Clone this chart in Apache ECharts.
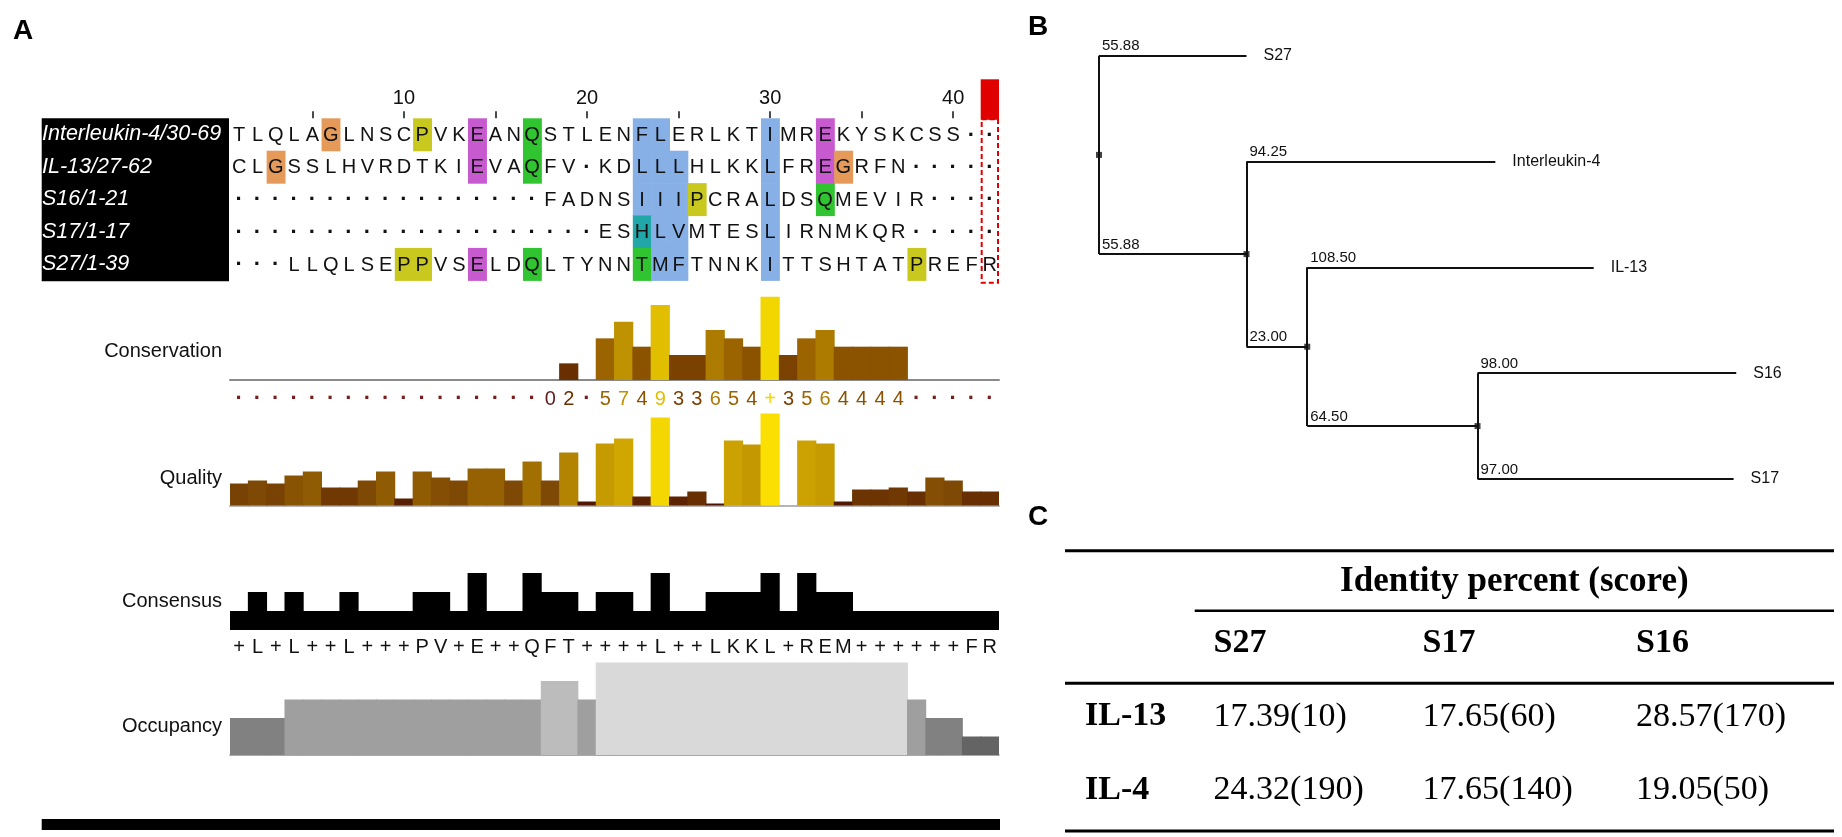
<!DOCTYPE html>
<html><head><meta charset="utf-8">
<script src="https://cdn.jsdelivr.net/npm/echarts@6/dist/echarts.min.js"></script>
<style>html,body{margin:0;padding:0;background:#fff}#c{width:1842px;height:837px}</style>
</head><body><div id="c"></div>
<script>
// ================= DATA =================
const seqNames = ['Interleukin-4/30-69', 'IL-13/27-62', 'S16/1-21', 'S17/1-17', 'S27/1-39'];
const seqRows = [
  'TLQLAGLNSCPVKEANQSTLENFLERLKTIMREKYSKCSS--',
  'CLGSSLHVRDTKIEVAQFV-KDLLLHLKKLFREGRFN-----',
  '-----------------FADNSIIIPCRALDSQMEVIR----',
  '--------------------ESHLVMTESLIRNMKQR-----',
  '---LLQLSEPPVSELDQLTYNNTMFTNNKITTSHTATPREFR'
];
// Clustal colour class per residue (o=G orange, y=P, m=E, g=Q/T, b=hydrophobic, t=H)
const clustalClass = [
  '.....o....y..m..g.....bb.....b..m.........',
  '..o..........m..g.....bbb....b..mo........',
  '......................bbby...b..g.........',
  '......................tbb....b............',
  '.........yy..m..g.....gbb....b.......y....'
];
const hiddenColumns = [42];
const rulerEvery = 10;
const tickEvery = 5;
const conservation = [null,null,null,null,null,null,null,null,null,null,null,null,null,null,null,null,null,
  0,2,null,5,7,4,9,3,3,6,5,4,10,3,5,6,4,4,4,4,null,null,null,null,null];
const quality = [22,25,22,30,34,18,18,25,34,7, 34,28,25,37,37,25,44,25,53,4,
  62,67,9,88,9,14,2,65,61,92, 0,65,62,4,16,16,18,14,28,25, 14,14];
const consensusPct = [20,40,20,40,20,20,40,20,20,20, 40,40,20,60,20,20,60,40,40,20,
  40,40,20,60,20,20,40,40,40,60, 20,60,40,40,20,20,20,20,20,20, 20,20];
const consensusChar = '+L+L++L+++PV+E++QFT++++L++LKKL+REM++++++FR';
const occupancy = [2,2,2, 3,3,3,3,3,3,3,3,3,3,3,3,3,3, 4,4, 3,
  5,5,5,5,5,5,5,5,5,5,5,5,5,5,5,5,5, 3, 2,2, 1,1];
const annotationLabels = ['Conservation', 'Quality', 'Consensus', 'Occupancy'];

// tree (panel B)
const treeNode = ['root', 'S27', 'n2', 'Interleukin-4', 'n3', 'IL-13', 'n4', 'S16', 'S17'];
const treeParent = [-1, 0, 0, 2, 2, 4, 4, 6, 6];
const branchLength = [0, 55.88, 55.88, 94.25, 23.00, 108.50, 64.50, 98.00, 97.00];

// table (panel C)
const tableTitle = 'Identity percent (score)';
const tableCols = ['S27', 'S17', 'S16'];
const tableRows = ['IL-13', 'IL-4'];
const identityPct = [[17.39, 17.65, 28.57], [24.32, 17.65, 19.05]];
const identityScore = [[10, 60, 170], [190, 140, 50]];

// ================= STYLE / LAYOUT =================
const FONT = '"Liberation Sans", Arial, sans-serif';
const SERIF = '"Liberation Serif", "Times New Roman", serif';
const N = seqRows[0].length;
const colNumbers = Array.from({length: N}, (_, i) => String(i + 1));
const clustalColors = {o: '#e59a5a', y: '#c9c81e', m: '#c85ad0', g: '#30c430', b: '#87b0e6', t: '#22a7a8'};
const consStops = ['#4a0c00', '#9b6400', '#f2d600'];
const qualStops = ['#4a0e00', '#7c4604', '#a87602', '#d8b200', '#ffe600'];
const occStops = ['#646464', '#d9d9d9'];

function hex2rgb(h) { return [1, 3, 5].map(i => parseInt(h.substr(i, 2), 16)); }
function gradient(stops, t) {
  t = Math.max(0, Math.min(1, t));
  const s = t * (stops.length - 1), i = Math.min(Math.floor(s), stops.length - 2), f = s - i;
  const a = hex2rgb(stops[i]), b = hex2rgb(stops[i + 1]);
  return 'rgb(' + a.map((v, k) => Math.round(v + (b[k] - v) * f)).join(',') + ')';
}

const L = 230, W = 769;
const BAR_W = W / N + 0.9;
const grids = [
  {left: L, top: 118.3, width: W, height: 162},   // 0 alignment
  {left: L, top: 296.7, width: W, height: 83.3},  // 1 conservation
  {left: L, top: 388, width: W, height: 20},      // 2 conservation symbols
  {left: L, top: 410.5, width: W, height: 95},    // 3 quality
  {left: L, top: 535, width: W, height: 95},      // 4 consensus
  {left: L, top: 637, width: W, height: 20},      // 5 consensus chars
  {left: L, top: 662.5, width: W, height: 92.5}   // 6 occupancy
];

// tree layout from data
const children = treeNode.map(() => []);
treeParent.forEach((p, i) => { if (p >= 0) children[p].push(i); });
const depth = [];
treeNode.forEach((_, i) => { depth[i] = treeParent[i] < 0 ? 0 : depth[treeParent[i]] + branchLength[i]; });
const ypos = []; let leafCounter = 0;
(function place(i) {
  if (!children[i].length) { ypos[i] = leafCounter++; return; }
  children[i].forEach(place);
  const ys = children[i].map(c => ypos[c]);
  ypos[i] = (Math.min(...ys) + Math.max(...ys)) / 2;
})(0);
const maxDepth = Math.max(...depth);
const pxPerUnit = 2.64;
grids.push({left: 1099, top: 55.7, width: maxDepth * pxPerUnit, height: 423.3}); // 7 tree

const treeSegments = [];
treeNode.forEach((_, i) => {
  const p = treeParent[i];
  if (p >= 0) treeSegments.push({coords: [[depth[p], ypos[i]], [depth[i], ypos[i]]]});
  if (children[i].length) {
    const ys = children[i].map(c => ypos[c]);
    treeSegments.push({coords: [[depth[i], Math.min(...ys)], [depth[i], Math.max(...ys)]]});
  }
});
const internalNodes = treeNode.map((_, i) => i).filter(i => children[i].length);
const branchLabelNodes = treeNode.map((_, i) => i).filter(i => treeParent[i] >= 0);
const leafNodes = treeNode.map((_, i) => i).filter(i => !children[i].length);

// axes
const xAxes = grids.map((g, gi) => {
  if (gi === 7) return {type: 'value', gridIndex: 7, min: 0, max: maxDepth, show: false};
  const ax = {type: 'category', gridIndex: gi, data: colNumbers, boundaryGap: true,
    axisLine: {show: false}, axisTick: {show: false}, axisLabel: {show: false}, splitLine: {show: false}};
  if (gi === 0) {
    ax.position = 'top';
    ax.axisTick = {show: true, alignWithLabel: true, length: 7,
      interval: (i) => (i + 1) % tickEvery === 0, lineStyle: {color: '#111', width: 1.5}};
    ax.axisLabel = {show: true, interval: (i) => (i + 1) % rulerEvery === 0, margin: 10,
      fontSize: 20, color: '#111', fontFamily: FONT};
  }
  if (gi === 1) ax.axisLine = {show: true, lineStyle: {color: '#8a8a8a', width: 2}};
  if (gi === 3) ax.axisLine = {show: true, lineStyle: {color: '#b5b5b5', width: 2}};
  if (gi === 6) ax.axisLine = {show: true, lineStyle: {color: '#8c8c8c', width: 1.5}};
  return ax;
});
const yMax = [null, 10, 1, 95, 100, 1, 5, null];
const yAxes = grids.map((g, gi) => {
  if (gi === 0) return {type: 'category', gridIndex: 0, data: seqNames, inverse: true, z: 10,
    axisLine: {show: false}, axisTick: {show: false}, splitLine: {show: false},
    axisLabel: {margin: 188, align: 'left', color: '#fff', fontStyle: 'italic', fontSize: 21.5, fontFamily: FONT}};
  if (gi === 7) return {type: 'value', gridIndex: 7, min: 0, max: leafCounter - 1, inverse: true, show: false};
  return {type: 'value', gridIndex: gi, min: 0, max: yMax[gi], show: false};
});

// alignment data
const hlData = [], letterData = [];
seqRows.forEach((row, r) => {
  for (let c = 0; c < N; c++) {
    letterData.push([c, r, row[c]]);
    const k = clustalClass[r][c];
    if (k !== '.') hlData.push([c, r, k]);
  }
});

function cellRect(api) {
  const p = api.coord([api.value(0), api.value(1)]);
  const s = api.size([1, 1]);
  return {x: p[0] - s[0] / 2, y: p[1] - s[1] / 2, width: s[0], height: s[1], cx: p[0], cy: p[1]};
}

const series = [
  { // 0 highlight cells
    type: 'custom', xAxisIndex: 0, yAxisIndex: 0, data: hlData.map(d => [d[0], d[1]]), z: 1,
    renderItem: (params, api) => {
      const r = cellRect(api);
      return {type: 'rect', shape: {x: r.x, y: r.y, width: r.width + 0.6, height: r.height + 0.6},
        style: {fill: clustalColors[hlData[params.dataIndex][2]]}};
    }
  },
  { // 1 residue letters
    type: 'custom', xAxisIndex: 0, yAxisIndex: 0, data: letterData.map(d => [d[0], d[1]]), z: 3,
    renderItem: (params, api) => {
      const r = cellRect(api);
      const ch = letterData[params.dataIndex][2];
      return {type: 'text', x: r.cx, y: r.cy + 1, style: {text: ch === '-' ? '·' : ch,
        fill: '#111', fontSize: ch === '-' ? 22 : 20, fontWeight: ch === '-' ? 'bold' : 'normal',
        fontFamily: FONT, align: 'center', verticalAlign: 'middle'}};
    }
  },
  { // 2 hidden column marker
    type: 'custom', xAxisIndex: 0, yAxisIndex: 0, data: hiddenColumns.map(c => [c - 1, 0]), z: 4,
    renderItem: (params, api) => {
      const r = cellRect(api), cs = params.coordSys;
      return {type: 'group', children: [
        {type: 'rect', shape: {x: r.x, y: cs.y - 39, width: r.width, height: 40.5}, style: {fill: '#e00000'}},
        {type: 'rect', shape: {x: r.x + 1, y: cs.y + 1, width: r.width - 2, height: cs.height + 1.5},
          style: {fill: null, stroke: '#e00000', lineWidth: 2, lineDash: [5, 3]}}
      ]};
    }
  },
  { // 3 conservation bars
    type: 'bar', xAxisIndex: 1, yAxisIndex: 1, data: conservation, barWidth: BAR_W, z: 2
  },
  { // 4 conservation symbols
    type: 'custom', xAxisIndex: 2, yAxisIndex: 2, data: conservation.map((v, i) => [i, 0.5]),
    renderItem: (params, api) => {
      const p = api.coord([api.value(0), api.value(1)]);
      const v = conservation[params.dataIndex];
      const txt = v === null ? '·' : (v === 10 ? '+' : (v === 11 ? '*' : String(v)));
      const col = v === null ? '#7b1c1c' : (v === 0 ? '#5e1e1e' : gradient(consStops, v / 10));
      return {type: 'text', x: p[0], y: p[1] + 1, style: {text: txt, fill: col,
        fontSize: v === null ? 22 : 20, fontWeight: v === null ? 'bold' : 'normal', fontFamily: FONT,
        align: 'center', verticalAlign: 'middle'}};
    }
  },
  { // 5 quality bars
    type: 'bar', xAxisIndex: 3, yAxisIndex: 3, data: quality, barWidth: BAR_W, z: 2
  },
  { // 6 consensus bars
    type: 'bar', xAxisIndex: 4, yAxisIndex: 4, data: consensusPct, barWidth: BAR_W, z: 2,
    itemStyle: {color: '#000'}
  },
  { // 7 consensus characters
    type: 'custom', xAxisIndex: 5, yAxisIndex: 5, data: consensusChar.split('').map((ch, i) => [i, 0.5]),
    renderItem: (params, api) => {
      const p = api.coord([api.value(0), api.value(1)]);
      return {type: 'text', x: p[0], y: p[1], style: {text: consensusChar[params.dataIndex], fill: '#111',
        fontSize: 20, fontFamily: FONT, align: 'center', verticalAlign: 'middle'}};
    }
  },
  { // 8 occupancy
    type: 'bar', xAxisIndex: 6, yAxisIndex: 6, data: occupancy, barWidth: BAR_W, z: 2
  },
  { // 9 tree branches
    type: 'lines', coordinateSystem: 'cartesian2d', xAxisIndex: 7, yAxisIndex: 7, polyline: false,
    data: treeSegments, lineStyle: {color: '#111', width: 2, opacity: 1}, silent: true
  },
  { // 10 tree nodes
    type: 'scatter', xAxisIndex: 7, yAxisIndex: 7, symbol: 'rect', symbolSize: 6,
    data: internalNodes.map(i => [depth[i], ypos[i]]), itemStyle: {color: '#111'}, z: 5
  },
  { // 11 branch length labels
    type: 'custom', xAxisIndex: 7, yAxisIndex: 7,
    data: branchLabelNodes.map(i => [depth[treeParent[i]], ypos[i]]),
    renderItem: (params, api) => {
      const p = api.coord([api.value(0), api.value(1)]);
      const i = branchLabelNodes[params.dataIndex];
      return {type: 'text', x: p[0] + 3, y: p[1] - 2, style: {text: branchLength[i].toFixed(2), fill: '#111',
        fontSize: 15, fontFamily: FONT, align: 'left', verticalAlign: 'bottom'}};
    }
  },
  { // 12 leaf labels
    type: 'custom', xAxisIndex: 7, yAxisIndex: 7,
    data: leafNodes.map(i => [depth[i], ypos[i]]),
    renderItem: (params, api) => {
      const p = api.coord([api.value(0), api.value(1)]);
      const i = leafNodes[params.dataIndex];
      return {type: 'text', x: p[0] + 17, y: p[1], style: {text: treeNode[i], fill: '#111',
        fontSize: 16, fontFamily: FONT, align: 'left', verticalAlign: 'middle'}};
    }
  }
];

const visualMap = [
  {type: 'continuous', show: false, seriesIndex: 3, dimension: 1, min: 0, max: 10, inRange: {color: consStops}},
  {type: 'continuous', show: false, seriesIndex: 5, dimension: 1, min: 0, max: 95, inRange: {color: qualStops}},
  {type: 'continuous', show: false, seriesIndex: 8, dimension: 1, min: 1, max: 5, inRange: {color: occStops}}
];

// graphic: static decorations, labels, table
const annotY = [351.7, 478, 601.7, 726.7];
const graphic = [
  {type: 'rect', shape: {x: 41.7, y: 118.3, width: 187.3, height: 163}, style: {fill: '#000'}, z: -10},
  {type: 'rect', shape: {x: 41.7, y: 819, width: 958.3, height: 11}, style: {fill: '#000'}},
  {type: 'text', x: 13, y: 17, style: {text: 'A', fontSize: 28, fontWeight: 'bold', fontFamily: FONT, fill: '#000'}},
  {type: 'text', x: 1028, y: 13, style: {text: 'B', fontSize: 28, fontWeight: 'bold', fontFamily: FONT, fill: '#000'}},
  {type: 'text', x: 1028, y: 503, style: {text: 'C', fontSize: 28, fontWeight: 'bold', fontFamily: FONT, fill: '#000'}}
];
annotationLabels.forEach((t, i) => graphic.push({type: 'text', x: 222, y: annotY[i],
  style: {text: t, fontSize: 20, fontFamily: FONT, fill: '#111', align: 'right', verticalAlign: 'middle'}}));

// table
const ruleStyle = (w) => ({stroke: '#000', lineWidth: w});
[[550.7, 1065, 3], [610.7, 1194.7, 2.5], [683.3, 1065, 3], [831, 1065, 3]].forEach(r =>
  graphic.push({type: 'line', shape: {x1: r[1], y1: r[0], x2: 1834, y2: r[0]}, style: ruleStyle(r[2])}));
graphic.push({type: 'text', x: 1514.4, y: 581.7, style: {text: tableTitle, fontSize: 35, fontWeight: 'bold',
  fontFamily: SERIF, fill: '#000', align: 'center', verticalAlign: 'middle'}});
const colX = [1213.6, 1422.6, 1636];
const rowY = [716.7, 790];
tableCols.forEach((c, j) => graphic.push({type: 'text', x: colX[j], y: 643.3, style: {text: c, fontSize: 34,
  fontWeight: 'bold', fontFamily: SERIF, fill: '#000', align: 'left', verticalAlign: 'middle'}}));
tableRows.forEach((r, i) => {
  graphic.push({type: 'text', x: 1085, y: rowY[i], style: {text: r, fontSize: 34, fontWeight: 'bold',
    fontFamily: SERIF, fill: '#000', align: 'left', verticalAlign: 'middle'}});
  tableCols.forEach((c, j) => graphic.push({type: 'text', x: colX[j], y: rowY[i], style: {
    text: identityPct[i][j].toFixed(2) + '(' + identityScore[i][j] + ')', fontSize: 34,
    fontFamily: SERIF, fill: '#000', align: 'left', verticalAlign: 'middle'}}));
});

const chart = echarts.init(document.getElementById('c'));
chart.setOption({
  animation: false,
  backgroundColor: '#fff',
  grid: grids,
  xAxis: xAxes,
  yAxis: yAxes,
  visualMap: visualMap,
  series: series,
  graphic: graphic
});
</script>
</body></html>
